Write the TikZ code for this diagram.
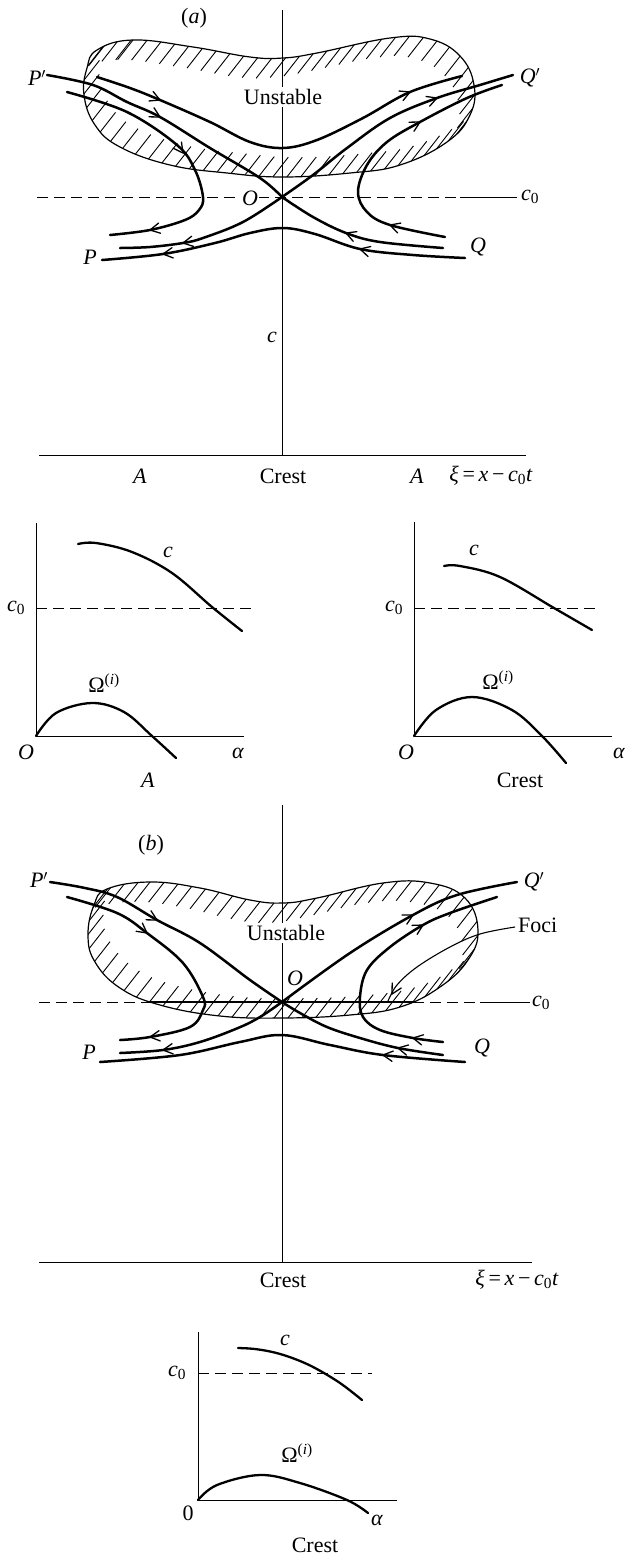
\documentclass[tikz,border=0pt]{standalone}
\usepackage{fontspec}
\setmainfont{Liberation Serif}
\usetikzlibrary{arrows.meta,decorations.markings}
\newcommand\chev[3]{\draw[chevron] (#1,#2) ++(#3+152:11pt) -- (#1,#2) -- ++(#3-152:11pt);}
\begin{document}
\begin{tikzpicture}[x=1pt,y=-1pt,
  every node/.style={font=\fontsize{22}{25}\selectfont, inner sep=1pt},
  axis/.style={line width=1pt},
  traj/.style={line width=2.5pt, line cap=round},
  thintraj/.style={line width=1.1pt},
  outline/.style={line width=1.2pt},
  curve/.style={line width=2.3pt, line cap=round},
  chevron/.style={line width=1.3pt, line cap=round, line join=miter},
  c0dash/.style={line width=1pt, dash pattern=on 11pt off 6pt},
  hatchmarks/.style={decoration={markings, mark=between positions 0 and 1 step 14pt with {\pgftransformresetnontranslations \draw[line width=0.9pt] (232:25pt) -- (52:25pt);}}, decorate},
  wlbl/.style={fill=white, inner sep=2pt}
]
\useasboundingbox (0,0) rectangle (626,1559);

\def\regA{plot[smooth cycle, tension=0.7] coordinates {(97,50) (133,40) (193,47) (250,57) (283,58) (317,53) (390,38) (430,39) (460,56) (474,85) (470,115) (447,142) (400,165) (350,173) (283,177) (227,173) (170,165) (120,147) (95,125) (84,95) (87,68)}}
\def\regB{plot[smooth cycle, tension=0.7] coordinates {(107,889) (150,882) (200,888) (250,900) (283,903) (317,898) (383,883) (430,883) (465,898) (478,930) (468,960) (440,987) (400,1007) (350,1015) (283,1018) (220,1016) (160,1005) (120,988) (95,962) (88,935) (94,905)}}

% ================= panel (a) =================
\begin{scope}
  \clip \regA;
  \path[hatchmarks] \regA;
\end{scope}
\draw[outline] \regA;

% axes
\draw[axis] (282,10) coordinate (aTop) -- (282,455) coordinate (aBot);
\draw[axis] (39,455) coordinate (aL) -- (526,455) coordinate (aR);
\draw[c0dash] (37,197) coordinate (aDL) -- (460,197) coordinate (aDM);
\draw[axis] (aDM) -- (517,197) coordinate (aDR);

\node[wlbl] (aUn) at (283,97) {Unstable};
\node[wlbl, inner sep=1pt] (aO) at (250,198) {\textit{O}};
\coordinate (aOrig) at (282,197);

% trajectories (a)
\draw[traj] plot[smooth, tension=0.6] coordinates {(97,77) (130,88) (160,100) (210,122) (250,142) (283,148) (317,140) (363,118) (410,92) (462,76)};
\chev{160}{100}{-23} \chev{410}{92}{23}
\draw[traj] plot[smooth, tension=0.6] coordinates {(47,75) (93,85) (127,102) (160,117) (210,148) (260,178) (aOrig)};
\chev{160}{117}{-29}
\draw[traj] plot[smooth, tension=0.6] coordinates {(443,248) (380,242) (346,233) (313,217) (aOrig)};
\chev{346}{233}{159}
\draw[traj] plot[smooth, tension=0.6] coordinates {(aOrig) (313,175) (347,148) (390,118) (437,98) (480,85) (513,75)};
\chev{437}{98}{20}
\draw[traj] plot[smooth, tension=0.6] coordinates {(aOrig) (243,222) (203,238) (183,243) (150,247) (120,248)};
\chev{183}{243}{190}
\draw[traj] plot[smooth, tension=0.6] coordinates {(67,92) (127,112) (177,145) (195,170) (203,197) (199,210) (185,220) (150,230) (110,235)};
\chev{183}{153}{-54} \chev{150}{230}{191}
\draw[traj] plot[smooth, tension=0.6] coordinates {(445,237) (390,225) (367,212) (358,192) (367,165) (387,142) (420,122) (467,98) (502,85)};
\chev{390}{225}{162} \chev{420}{122}{29}
\draw[traj] plot[smooth, tension=0.6] coordinates {(465,258) (413,255) (360,249) (315,234) (283,228) (250,233) (215,243) (163,254) (102,260)};
\chev{360}{249}{165} \chev{163}{254}{187}

% labels (a)
\node (la) at (194,18) {(\textit{a})};
\node (aPp) at (37,78) {\textit{P}$'$};
\node (aQp) at (530,78) {\textit{Q}$'$};
\node (ac0) at (530,197) {\textit{c}\textsubscript{0}};
\node (aP) at (90,257) {\textit{P}};
\node (aQ) at (478,247) {\textit{Q}};
\node (ac) at (272,337) {\textit{c}};
\node (aA1) at (140,476) {\textit{A}};
\node (aCr) at (283,476) {Crest};
\node (aA2) at (417,476) {\textit{A}};
\node (axi) at (491,476) {\textit{ξ}\,=\,\textit{x}\,−\,\textit{c}\textsubscript{0}\textit{t}};

% ================= small plots (a) =================
% left
\draw[axis] (36,523) coordinate (s1T) -- (36,736) coordinate (s1O) -- (244,736) coordinate (s1R);
\draw[c0dash] (36,608) -- (256,608);
\draw[curve] plot[smooth, tension=0.6] coordinates {(78,544) (96,543) (132,552) (172,573) (212,607) (242,631)};
\draw[curve] plot[smooth, tension=0.6] coordinates {(s1O) (56,713) (92,703) (124,712) (152,736) (176,758)};
\node (s1c0) at (16,608) {\textit{c}\textsubscript{0}};
\node (s1c) at (168,552) {\textit{c}};
\node (s1W) at (104,683) {Ω\textsuperscript{(\textit{i})}};
\node (s1Ol) at (26,752) {\textit{O}};
\node (s1a) at (238,753) {\textit{α}};
\node (s1A) at (148,780) {\textit{A}};
% right
\draw[axis] (414,522) coordinate (s2T) -- (414,736) coordinate (s2O) -- (612,736) coordinate (s2R);
\draw[c0dash] (414,608) -- (598,608);
\draw[curve] plot[smooth, tension=0.6] coordinates {(444,566) (460,566) (500,577) (554,608) (592,630)};
\draw[curve] plot[smooth, tension=0.6] coordinates {(s2O) (436,710) (472,697) (512,710) (542,736) (566,763)};
\node (s2c0) at (394,608) {\textit{c}\textsubscript{0}};
\node (s2c) at (474,550) {\textit{c}};
\node (s2W) at (498,680) {Ω\textsuperscript{(\textit{i})}};
\node (s2Ol) at (406,752) {\textit{O}};
\node (s2a) at (619,753) {\textit{α}};
\node (s2Cr) at (520,780) {Crest};

% ================= panel (b) =================
\begin{scope}
  \clip \regB;
  \path[hatchmarks] \regB;
\end{scope}
\draw[outline] \regB;

\draw[axis] (282,805) coordinate (bTop) -- (282,1262) coordinate (bBot);
\draw[axis] (39,1262) coordinate (bL) -- (532,1262) coordinate (bR);
\draw[c0dash] (39,1002) coordinate (bDL) -- (480,1002) coordinate (bDM);
\draw[axis] (bDM) -- (530,1002) coordinate (bDR);
\draw[line width=2.8pt] (149,1002) coordinate (bFL) -- (414,1002) coordinate (bFR);

\node[wlbl] (bUn) at (286,933) {Unstable};
\coordinate (bOrig) at (282,1002);

\draw[traj] plot[smooth, tension=0.6] coordinates {(50,882) (85,888) (117,897) (157,920) (200,943) (250,980) (bOrig)};
\chev{157}{920}{-29}
\draw[traj] plot[smooth, tension=0.6] coordinates {(443,1055) (398,1048) (360,1038) (327,1027) (300,1013) (bOrig)};
\chev{398}{1048}{168}
\draw[traj] plot[smooth, tension=0.6] coordinates {(bOrig) (350,953) (413,915) (457,895) (517,882)};
\chev{413}{915}{28}
\draw[traj] plot[smooth, tension=0.6] coordinates {(bOrig) (260,1017) (238,1028) (200,1042) (163,1050) (120,1053)};
\chev{163}{1050}{187}
\draw[traj] plot[smooth, tension=0.6] coordinates {(67,897) (117,913) (147,933) (183,963) (203,997) (203,1010) (190,1027) (150,1037) (120,1040)};
\chev{147}{933}{-37} \chev{150}{1037}{187}
\draw[traj] plot[smooth, tension=0.6] coordinates {(443,1042) (413,1038) (380,1030) (363,1017) (360,997) (367,970) (390,947) (423,925) (450,913) (497,897)};
\chev{413}{1038}{169} \chev{423}{925}{30}
\draw[traj] plot[smooth, tension=0.6] coordinates {(465,1062) (383,1055) (330,1045) (282,1035) (240,1042) (180,1055) (100,1062)};
\chev{383}{1055}{173}
\draw[thintraj] plot[smooth, tension=0.6] coordinates {(515,927) (480,934) (450,947) (417,967) (397,985) (388,1001)};
\chev{392}{994}{241}

\node (lb) at (151,845) {(\textit{b})};
\node (bPp) at (39,880) {\textit{P}$'$};
\node (bQp) at (534,882) {\textit{Q}$'$};
\node[anchor=west] (bFoci) at (517,925) {Foci};
\node (bO) at (295,978) {\textit{O}};
\node (bc0) at (541,1003) {\textit{c}\textsubscript{0}};
\node (bP) at (89,1052) {\textit{P}};
\node (bQ) at (482,1048) {\textit{Q}};
\node (bCr) at (283,1280) {Crest};
\node (bxi) at (517,1280) {\textit{ξ}\,=\,\textit{x}\,−\,\textit{c}\textsubscript{0}\textit{t}};

% ================= small plot (b) =================
\draw[axis] (198,1332) coordinate (s3T) -- (198,1500) coordinate (s3O) -- (397,1500) coordinate (s3R);
\draw[c0dash] (198,1373) -- (372,1373);
\draw[curve] plot[smooth, tension=0.6] coordinates {(238,1348) (255,1349) (275,1352.6) (295,1359) (315,1368) (340,1383) (362,1400)};
\draw[curve] plot[smooth, tension=0.6] coordinates {(s3O) (217,1485) (260,1475) (300,1483) (347,1500) (368,1513)};
\node (s3c0) at (177,1373) {\textit{c}\textsubscript{0}};
\node (s3c) at (285,1340) {\textit{c}};
\node (s3W) at (297,1453) {Ω\textsuperscript{(\textit{i})}};
\node (s3Ol) at (188,1513) {0};
\node (s3a) at (377,1520) {\textit{α}};
\node (s3Cr) at (315,1545) {Crest};
\end{tikzpicture}
\end{document}
